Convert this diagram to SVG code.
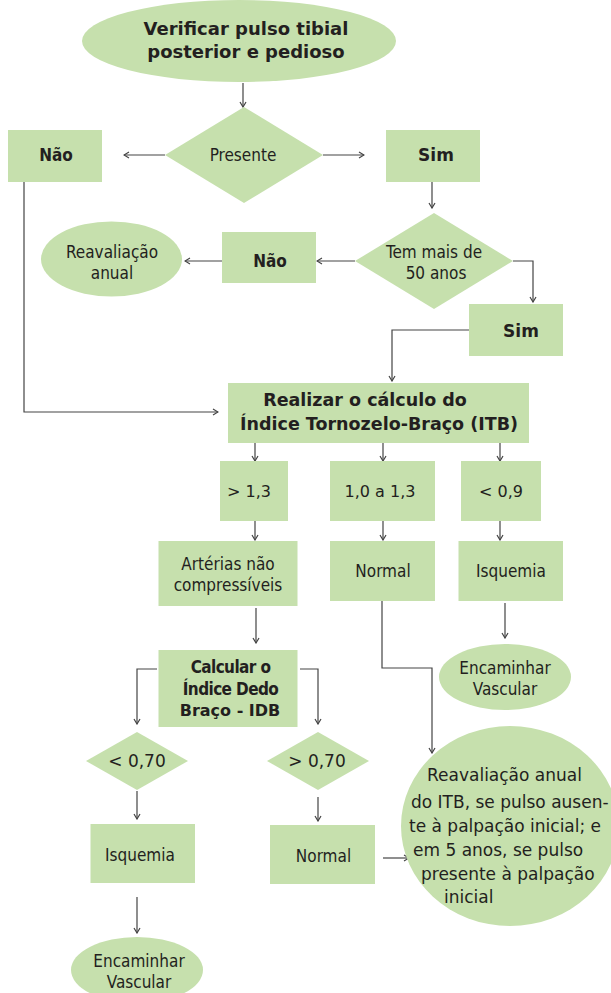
<svg xmlns="http://www.w3.org/2000/svg" width="611" height="993" viewBox="0 0 611 993">
<defs>
<style>
.n{fill:#c6e0ad;stroke:none}
.t{font-family:"DejaVu Sans","Liberation Sans",sans-serif;font-size:16px;fill:#231f20;text-anchor:middle}
.c{font-family:"DejaVu Sans Condensed","DejaVu Sans",sans-serif;font-size:17px;fill:#231f20;text-anchor:middle}
.b{font-weight:bold}
.big{font-family:"DejaVu Sans","Liberation Sans",sans-serif;font-size:17px;fill:#231f20}
.l{fill:none;stroke:#444;stroke-width:1.2}
</style>
<marker id="a" viewBox="0 0 8 8" refX="7" refY="4" markerWidth="8" markerHeight="8" markerUnits="userSpaceOnUse" orient="auto">
<path d="M2,1 L7,4 L2,7" fill="none" stroke="#444" stroke-width="1.2"/>
</marker>
</defs>
<rect width="611" height="993" fill="#fff"/>
<g id="connectors" class="l" marker-end="url(#a)">
<path d="M243,83 V107"/>
<path d="M165,155 H124"/>
<path d="M323,155 H364"/>
<path d="M432,182 V208"/>
<path d="M355,261 H317"/>
<path d="M222,261 H185"/>
<path d="M513,261 H533 V302"/>
<path d="M469,330 H392 V381"/>
<path d="M24,182 V412 H218"/>
<path d="M255,443 V461"/>
<path d="M383,443 V461"/>
<path d="M500,443 V461"/>
<path d="M255,521 V540"/>
<path d="M383,521 V540"/>
<path d="M500,521 V540"/>
<path d="M256,608 V643"/>
<path d="M505,603 V638"/>
<path d="M157,669 H137 V724"/>
<path d="M300,669 H318 V724"/>
<path d="M382,601 V668 H432 V753"/>
<path d="M137,791 V819"/>
<path d="M318,797 V821"/>
<path d="M383,858 H409"/>
<path d="M137,897 V933"/>
</g>
<g id="start"><ellipse class="n" cx="239" cy="41" rx="157" ry="41"/>
<text class="t b" x="246" y="35" style="font-size:18px">Verificar pulso tibial</text>
<text class="t b" x="246" y="58" style="font-size:18px">posterior e pedioso</text></g>
<g id="presente"><path class="n" d="M244,107 L323,155 L244,203 L165,155 Z"/>
<text class="c" x="243" y="161">Presente</text></g>
<g id="nao1"><rect class="n" x="8" y="130" width="94" height="52"/>
<text class="c b" x="56" y="161">Não</text></g>
<g id="sim1"><rect class="n" x="386" y="130" width="94" height="52"/>
<text class="t b" x="436" y="161" style="font-size:17px">Sim</text></g>
<g id="idade"><path class="n" d="M434,213 L513,261 L434,309 L355,261 Z"/>
<text class="c" x="434" y="258">Tem mais de</text>
<text class="c" x="436" y="279">50 anos</text></g>
<g id="nao2"><rect class="n" x="222" y="232" width="94" height="51"/>
<text class="c b" x="270" y="267">Não</text></g>
<g id="reav1"><ellipse class="n" cx="111.5" cy="259" rx="70.5" ry="37.5"/>
<text class="c" x="112" y="258">Reavaliação</text>
<text class="c" x="112" y="279">anual</text></g>
<g id="sim2"><rect class="n" x="469" y="304" width="94" height="52"/>
<text class="t b" x="521" y="337" style="font-size:17px">Sim</text></g>
<g id="itb"><rect class="n" x="228" y="383" width="301" height="60"/>
<text class="t b" x="365" y="406" style="font-size:17.5px">Realizar o cálculo do</text>
<text class="t b" x="379" y="430" style="font-size:17.5px">Índice Tornozelo-Braço (ITB)</text></g>
<g id="gt13"><rect class="n" x="220" y="461" width="68" height="60"/>
<text class="t" x="249" y="497">&gt; 1,3</text></g>
<g id="r10"><rect class="n" x="330" y="461" width="105" height="60"/>
<text class="t" x="380" y="497">1,0 a 1,3</text></g>
<g id="lt09"><rect class="n" x="461" y="461" width="80" height="60"/>
<text class="t" x="501" y="497">&lt; 0,9</text></g>
<g id="arterias"><rect class="n" x="158.5" y="541" width="139" height="65"/>
<text class="c" x="228" y="570">Artérias não</text>
<text class="c" x="228" y="591">compressíveis</text></g>
<g id="normal1"><rect class="n" x="330" y="541" width="105" height="60"/>
<text class="c" x="383" y="577">Normal</text></g>
<g id="isq1"><rect class="n" x="458.5" y="541" width="104.5" height="60"/>
<text class="c" x="511" y="577">Isquemia</text></g>
<g id="enc1"><ellipse class="n" cx="505" cy="677" rx="66" ry="33"/>
<text class="c" x="505" y="674">Encaminhar</text>
<text class="c" x="505" y="695">Vascular</text></g>
<g id="idb"><rect class="n" x="158.5" y="650" width="139" height="77"/>
<text class="c b" x="230.5" y="673" letter-spacing="-0.6">Calcular o</text>
<text class="c b" x="230.5" y="695" letter-spacing="-0.6">Índice Dedo</text>
<text class="t b" x="230" y="716">Braço - IDB</text></g>
<g id="lt070"><path class="n" d="M137,732 L188,761 L137,790 L86,761 Z"/>
<text class="t" x="137" y="767" style="font-size:17px">&lt; 0,70</text></g>
<g id="gt070"><path class="n" d="M318,732 L369,761 L318,790 L267,761 Z"/>
<text class="t" x="317" y="767" style="font-size:17px">&gt; 0,70</text></g>
<g id="isq2"><rect class="n" x="90.5" y="824" width="104.5" height="59"/>
<text class="c" x="140" y="861">Isquemia</text></g>
<g id="normal2"><rect class="n" x="270" y="825" width="105" height="59"/>
<text class="c" x="323.5" y="862">Normal</text></g>
<g id="enc2"><ellipse class="n" cx="137" cy="970" rx="66" ry="33"/>
<text class="c" x="139" y="967">Encaminhar</text>
<text class="c" x="139" y="988">Vascular</text></g>
<g id="reav2"><ellipse class="n" cx="510" cy="826" rx="109" ry="100"/>
<text class="big" x="427" y="781">Reavaliação anual</text>
<text class="big" x="411" y="808">do ITB, se pulso ausen-</text>
<text class="big" x="409" y="832">te à palpação inicial; e</text>
<text class="big" x="413" y="856">em 5 anos, se pulso</text>
<text class="big" x="421" y="880">presente à palpação</text>
<text class="big" x="444" y="903">inicial</text></g>
</svg>
